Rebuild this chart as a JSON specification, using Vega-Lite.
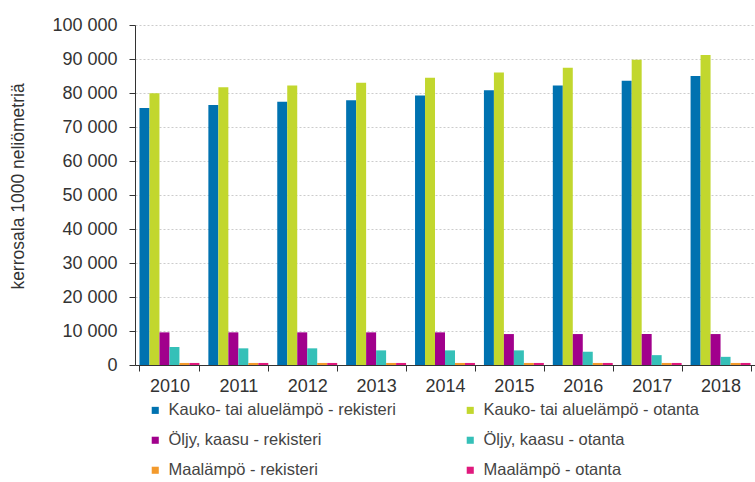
{
  "$schema": "https://vega.github.io/schema/vega-lite/v6.json",
  "width": 620,
  "height": 340,
  "autosize": {"type": "none"},
  "padding": {"left": 135, "top": 25, "right": 0, "bottom": 117},
  "background": "white",
  "config": {
    "view": {"stroke": null},
    "axis": {"labelFont": "Liberation Sans", "titleFont": "Liberation Sans", "labelColor": "#333333", "titleColor": "#333333"}
  },
  "data": {"values": [
    {"year": "2010", "series": "Kauko- tai aluelämpö - rekisteri", "value": 75600},
    {"year": "2010", "series": "Kauko- tai aluelämpö - otanta", "value": 79900},
    {"year": "2010", "series": "Öljy, kaasu - rekisteri", "value": 9600},
    {"year": "2010", "series": "Öljy, kaasu - otanta", "value": 5300},
    {"year": "2010", "series": "Maalämpö - rekisteri", "value": 600},
    {"year": "2010", "series": "Maalämpö - otanta", "value": 600},
    {"year": "2011", "series": "Kauko- tai aluelämpö - rekisteri", "value": 76500},
    {"year": "2011", "series": "Kauko- tai aluelämpö - otanta", "value": 81700},
    {"year": "2011", "series": "Öljy, kaasu - rekisteri", "value": 9600},
    {"year": "2011", "series": "Öljy, kaasu - otanta", "value": 4900},
    {"year": "2011", "series": "Maalämpö - rekisteri", "value": 600},
    {"year": "2011", "series": "Maalämpö - otanta", "value": 600},
    {"year": "2012", "series": "Kauko- tai aluelämpö - rekisteri", "value": 77400},
    {"year": "2012", "series": "Kauko- tai aluelämpö - otanta", "value": 82200},
    {"year": "2012", "series": "Öljy, kaasu - rekisteri", "value": 9600},
    {"year": "2012", "series": "Öljy, kaasu - otanta", "value": 4900},
    {"year": "2012", "series": "Maalämpö - rekisteri", "value": 600},
    {"year": "2012", "series": "Maalämpö - otanta", "value": 600},
    {"year": "2013", "series": "Kauko- tai aluelämpö - rekisteri", "value": 77900},
    {"year": "2013", "series": "Kauko- tai aluelämpö - otanta", "value": 83000},
    {"year": "2013", "series": "Öljy, kaasu - rekisteri", "value": 9600},
    {"year": "2013", "series": "Öljy, kaasu - otanta", "value": 4300},
    {"year": "2013", "series": "Maalämpö - rekisteri", "value": 600},
    {"year": "2013", "series": "Maalämpö - otanta", "value": 600},
    {"year": "2014", "series": "Kauko- tai aluelämpö - rekisteri", "value": 79300},
    {"year": "2014", "series": "Kauko- tai aluelämpö - otanta", "value": 84500},
    {"year": "2014", "series": "Öljy, kaasu - rekisteri", "value": 9600},
    {"year": "2014", "series": "Öljy, kaasu - otanta", "value": 4300},
    {"year": "2014", "series": "Maalämpö - rekisteri", "value": 600},
    {"year": "2014", "series": "Maalämpö - otanta", "value": 600},
    {"year": "2015", "series": "Kauko- tai aluelämpö - rekisteri", "value": 80800},
    {"year": "2015", "series": "Kauko- tai aluelämpö - otanta", "value": 86000},
    {"year": "2015", "series": "Öljy, kaasu - rekisteri", "value": 9100},
    {"year": "2015", "series": "Öljy, kaasu - otanta", "value": 4300},
    {"year": "2015", "series": "Maalämpö - rekisteri", "value": 600},
    {"year": "2015", "series": "Maalämpö - otanta", "value": 600},
    {"year": "2016", "series": "Kauko- tai aluelämpö - rekisteri", "value": 82200},
    {"year": "2016", "series": "Kauko- tai aluelämpö - otanta", "value": 87400},
    {"year": "2016", "series": "Öljy, kaasu - rekisteri", "value": 9100},
    {"year": "2016", "series": "Öljy, kaasu - otanta", "value": 3900},
    {"year": "2016", "series": "Maalämpö - rekisteri", "value": 600},
    {"year": "2016", "series": "Maalämpö - otanta", "value": 600},
    {"year": "2017", "series": "Kauko- tai aluelämpö - rekisteri", "value": 83600},
    {"year": "2017", "series": "Kauko- tai aluelämpö - otanta", "value": 89800},
    {"year": "2017", "series": "Öljy, kaasu - rekisteri", "value": 9100},
    {"year": "2017", "series": "Öljy, kaasu - otanta", "value": 2900},
    {"year": "2017", "series": "Maalämpö - rekisteri", "value": 600},
    {"year": "2017", "series": "Maalämpö - otanta", "value": 600},
    {"year": "2018", "series": "Kauko- tai aluelämpö - rekisteri", "value": 85000},
    {"year": "2018", "series": "Kauko- tai aluelämpö - otanta", "value": 91200},
    {"year": "2018", "series": "Öljy, kaasu - rekisteri", "value": 9100},
    {"year": "2018", "series": "Öljy, kaasu - otanta", "value": 2400},
    {"year": "2018", "series": "Maalämpö - rekisteri", "value": 600},
    {"year": "2018", "series": "Maalämpö - otanta", "value": 600}
  ]},
  "mark": {"type": "bar"},
  "encoding": {
    "x": {
      "field": "year", "type": "nominal",
      "scale": {"paddingInner": 0.13, "paddingOuter": 0.065},
      "axis": {
        "title": null, "labelAngle": 0, "labelFontSize": 18, "labelPadding": 6,
        "tickBand": "extent", "tickSize": 6, "tickColor": "#333333", "domainColor": "#333333",
        "grid": false
      }
    },
    "xOffset": {
      "field": "series", "type": "nominal",
      "sort": ["Kauko- tai aluelämpö - rekisteri", "Kauko- tai aluelämpö - otanta", "Öljy, kaasu - rekisteri", "Öljy, kaasu - otanta", "Maalämpö - rekisteri", "Maalämpö - otanta"],
      "scale": {"paddingInner": 0, "paddingOuter": 0}
    },
    "y": {
      "field": "value", "type": "quantitative",
      "scale": {"domain": [0, 100000]},
      "axis": {
        "title": "kerrosala 1000 neliömetriä", "titleFontSize": 17.5, "titleFontWeight": "normal",
        "titleY": 161, "titlePadding": 24,
        "tickCount": 10, "labelFontSize": 18, "labelPadding": 12, "tickSize": 6,
        "tickColor": "#333333", "domainColor": "#333333",
        "labelExpr": "replace(format(datum.value, ','), ',', ' ')",
        "gridColor": "#cccccc", "gridDash": [2, 2]
      }
    },
    "color": {
      "field": "series", "type": "nominal",
      "scale": {
        "domain": ["Kauko- tai aluelämpö - rekisteri", "Kauko- tai aluelämpö - otanta", "Öljy, kaasu - rekisteri", "Öljy, kaasu - otanta", "Maalämpö - rekisteri", "Maalämpö - otanta"],
        "range": ["#0072b0", "#c2d72e", "#a1008c", "#35c0b8", "#f39a2c", "#e0197d"]
      },
      "legend": {
        "title": null, "orient": "none", "legendX": 12, "legendY": 377,
        "direction": "horizontal",
        "columns": 2, "columnPadding": 66, "rowPadding": 13,
        "symbolType": "square", "symbolSize": 50, "symbolStrokeWidth": 0, "symbolOffset": 0,
        "labelFont": "Liberation Sans", "labelFontSize": 16.5, "labelColor": "#444444", "labelOffset": 5, "labelLimit": 400
      }
    }
  }
}
